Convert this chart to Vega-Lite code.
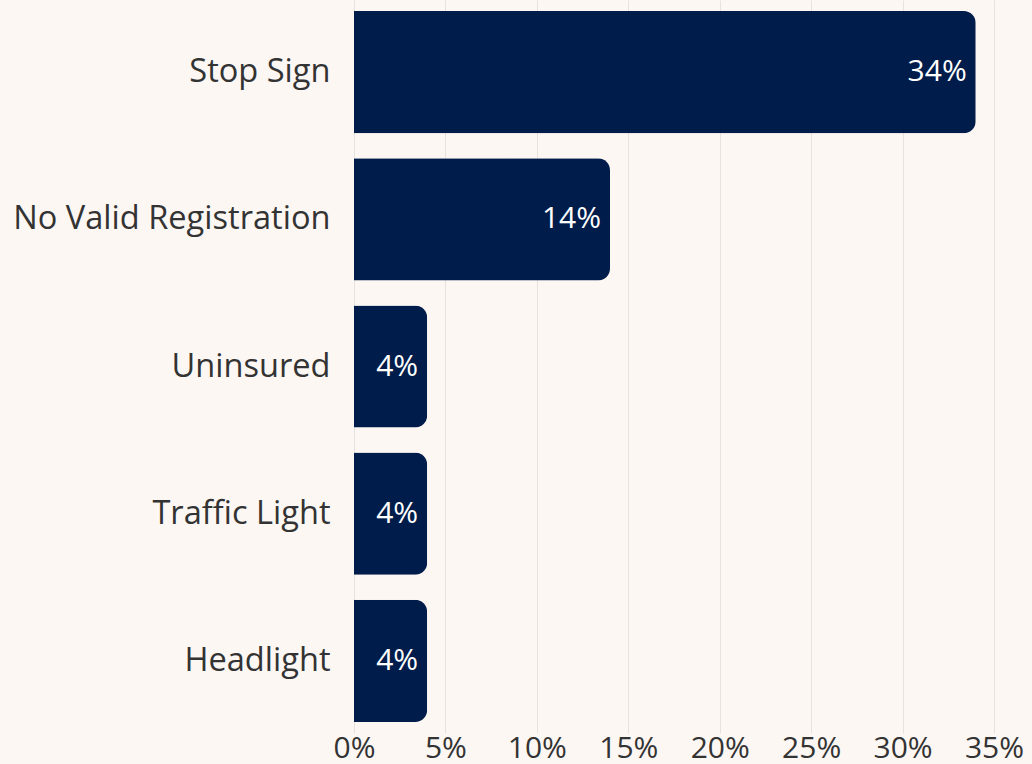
{
  "$schema": "https://vega.github.io/schema/vega-lite/v6.json",
  "width": 640,
  "height": 733,
  "autosize": {"type": "none"},
  "padding": {"left": 354, "top": 0, "right": 38, "bottom": 31},
  "background": "#fcf7f3",
  "config": {
    "view": {"stroke": null},
    "font": "Open Sans"
  },
  "data": {
    "values": [
      {"violation": "Stop Sign", "share": 34, "label": "34%"},
      {"violation": "No Valid Registration", "share": 14, "label": "14%"},
      {"violation": "Uninsured", "share": 4, "label": "4%"},
      {"violation": "Traffic Light", "share": 4, "label": "4%"},
      {"violation": "Headlight", "share": 4, "label": "4%"}
    ]
  },
  "encoding": {
    "y": {
      "field": "violation",
      "type": "nominal",
      "sort": null,
      "scale": {"paddingInner": 0.17, "paddingOuter": 0.075},
      "axis": {
        "title": null,
        "domain": false,
        "ticks": false,
        "labelFontSize": 32.6,
        "labelColor": "#333333",
        "labelPadding": 24,
        "labelFont": "Open Sans",
        "labelLimit": 400
      }
    },
    "x": {
      "field": "share",
      "type": "quantitative",
      "scale": {"domain": [0, 35], "nice": false},
      "axis": {
        "title": null,
        "values": [0, 5, 10, 15, 20, 25, 30, 35],
        "labelExpr": "datum.value + '%'",
        "domain": false,
        "ticks": false,
        "grid": true,
        "gridColor": "#e6e2de",
        "gridWidth": 1,
        "labelFontSize": 30,
        "labelColor": "#333333",
        "labelPadding": 0,
        "labelFont": "Open Sans",
        "labelOverlap": false,
        "labelFlush": false
      }
    }
  },
  "layer": [
    {
      "mark": {"type": "bar", "color": "#001c4a", "cornerRadiusEnd": 12}
    },
    {
      "mark": {
        "type": "text",
        "align": "right",
        "baseline": "middle",
        "dx": -9,
        "color": "#ffffff",
        "fontSize": 30,
        "font": "Open Sans"
      },
      "encoding": {
        "text": {"field": "label", "type": "nominal"}
      }
    }
  ]
}
